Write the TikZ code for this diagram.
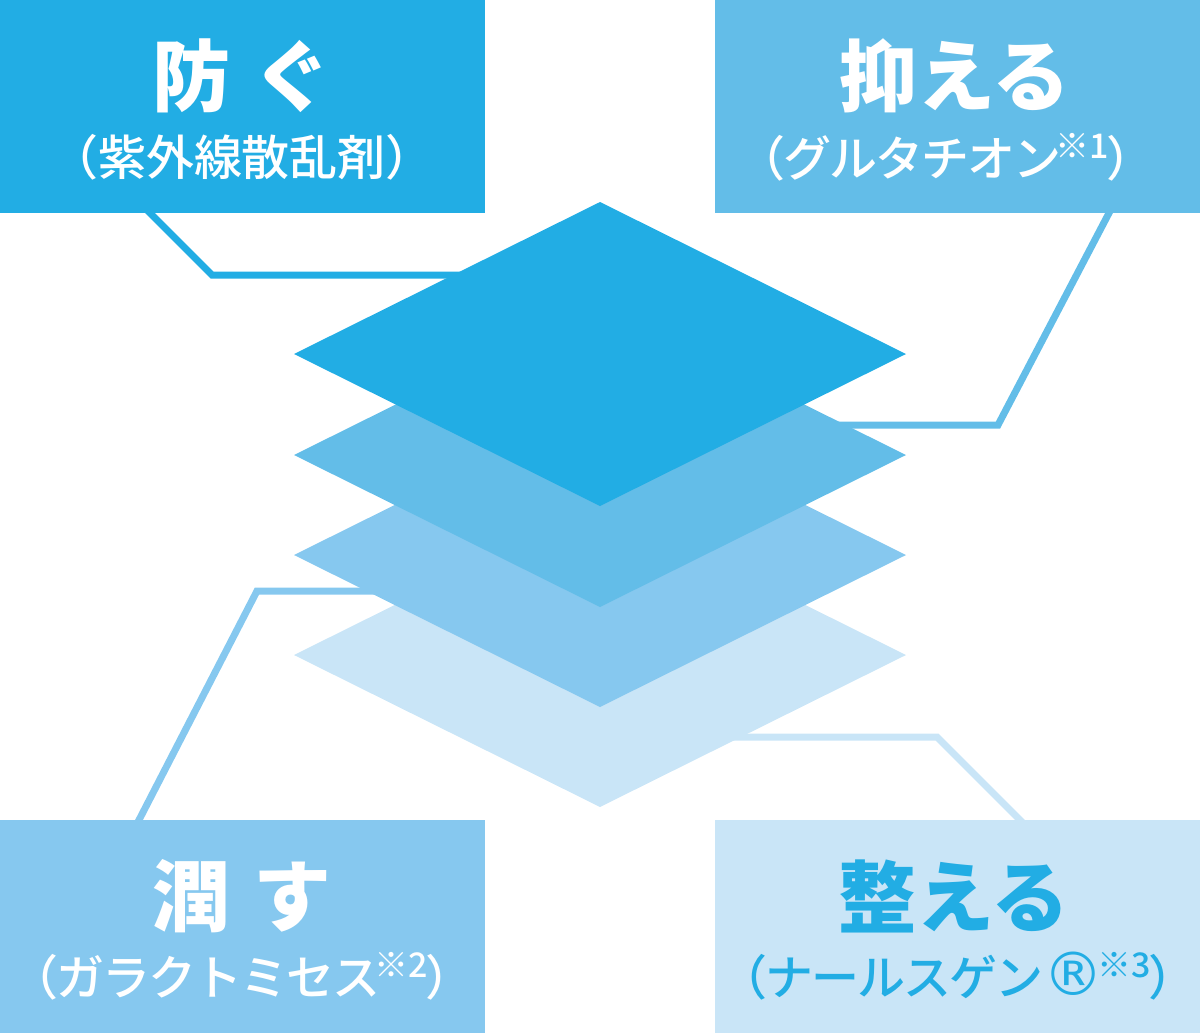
\documentclass[tikz,border=0pt]{standalone}
\usepackage{fontspec}
\usepackage{xcolor}
\usepackage{tikz}
\usetikzlibrary{shapes.geometric, positioning}

\newfontfamily\jpfont{Noto Sans CJK JP}
\newfontfamily\jpmed{Noto Sans CJK JP Medium}
\newfontfamily\jpkana{Noto Sans CJK JP Medium}[LetterSpace=-4]
\newfontfamily\symfont{DejaVu Sans}

\definecolor{layA}{HTML}{22ADE4}
\definecolor{layB}{HTML}{63BDE8}
\definecolor{layC}{HTML}{86C8EF}
\definecolor{layD}{HTML}{C9E5F7}

\newcommand{\headtxt}{\jpfont\bfseries\fontsize{39pt}{39pt}\selectfont}
\newcommand{\subtxt}{\jpmed\fontsize{24pt}{24pt}\selectfont}
\newcommand{\kanatxt}{\jpkana\fontsize{24pt}{24pt}\selectfont}
\newcommand{\note}[1]{\hspace{-3pt}\raisebox{9pt}{\jpmed\fontsize{17pt}{17pt}\selectfont ※#1}\hspace{-1pt}}

\begin{document}
\begin{tikzpicture}[x=0.5pt, y=-0.5pt, line join=miter]

    \tikzset{
        panel/.style={rectangle, inner sep=0pt, outer sep=0pt, anchor=north west,
            minimum width=242.5pt, minimum height=106.5pt},
        layer/.style={diamond, inner sep=0pt, outer sep=0pt,
            minimum width=306pt, minimum height=152pt},
        link/.style={line width=3.5pt, shorten <=-5pt}
    }

    \useasboundingbox (0,0) rectangle (1200,1033);

    % ==========================================
    % Connector corners
    % ==========================================
    \coordinate (pA) at (150,213);
    \coordinate (kA) at (212,275);
    \coordinate (pB) at (1109,213);
    \coordinate (kB) at (998,425);
    \coordinate (pC) at (139,820);
    \coordinate (kC) at (257,591);
    \coordinate (pD) at (1020,820);
    \coordinate (kD) at (937,737);

    % Layer centres (drawn later, on top of the connectors)
    \coordinate (cA) at (600,354);
    \coordinate (cB) at (600,455);
    \coordinate (cC) at (600,555);
    \coordinate (cD) at (600,655);

    % Connectors
    \draw[link, layA] (pA) -- (kA) -- (kA -| cA);
    \draw[link, layB] (pB) -- (kB) -- (kB -| cB);
    \draw[link, layC] (pC) -- (kC) -- (kC -| cC);
    \draw[link, layD] (pD) -- (kD) -- (kD -| cD);

    % ==========================================
    % Stacked layers (bottom first)
    % ==========================================
    \node[layer, fill=layD] (lay4) at (cD) {};
    \node[layer, fill=layC] (lay3) at (cC) {};
    \node[layer, fill=layB] (lay2) at (cB) {};
    \node[layer, fill=layA] (lay1) at (cA) {};

    % ==========================================
    % Panels
    % ==========================================
    \node[panel, fill=layA] (boxA) at (0,0) {};
    \node[panel, fill=layB] (boxB) at (715,0) {};
    \node[panel, fill=layC] (boxC) at (0,820) {};
    \node[panel, fill=layD] (boxD) at (715,820) {};

    % Texts
    \node[white] (headA) at (242,76) {\headtxt 防\hspace{0.3em}ぐ};
    \node[white] (subA) at (242,157) {\subtxt （紫外線散乱剤）};

    \node[white] (headB) at (955,76) {\headtxt 抑える};
    \node[white] (subB) at (946,157) {\kanatxt （グルタチオン\note{1}）};

    \node[white] (headC) at (242,896) {\headtxt 潤\hspace{0.3em}す};
    \node[white] (subC) at (242,976) {\kanatxt （ガラクトミセス\note{2}）};

    \node[layA] (headD) at (954,896) {\headtxt 整える};
    \node[layA] (subD) at (958,976) {\kanatxt （ナールスゲン{\symfont\fontsize{30pt}{30pt}\selectfont ®}\note{3}）};

\end{tikzpicture}
\end{document}
